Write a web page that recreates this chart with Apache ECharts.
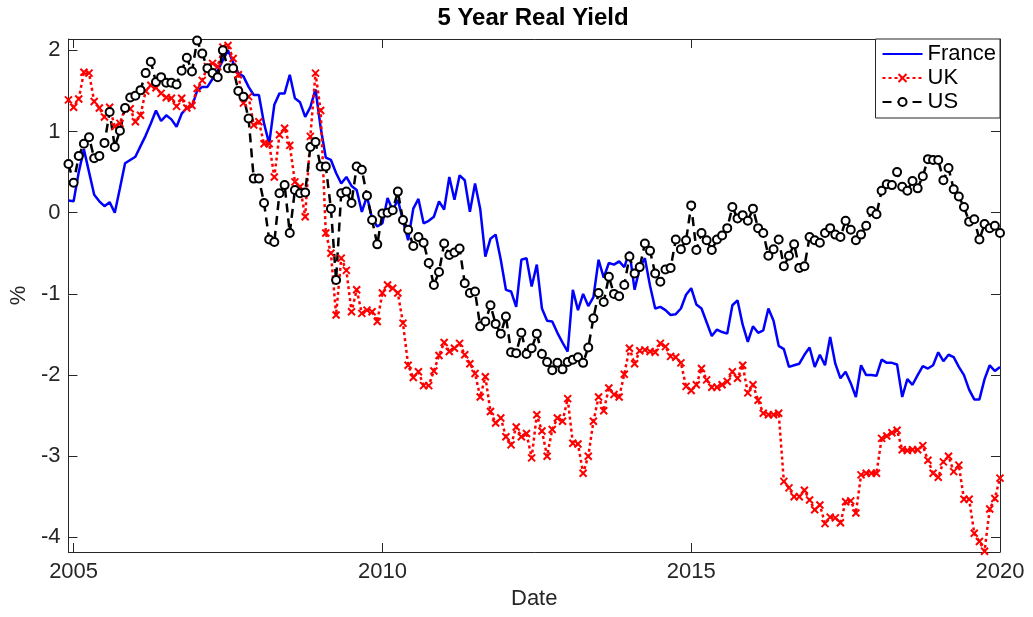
<!DOCTYPE html>
<html>
<head>
<meta charset="utf-8">
<title>5 Year Real Yield</title>
<script src="https://cdn.jsdelivr.net/npm/echarts@6/dist/echarts.min.js"></script>
<style>
  html, body { margin: 0; padding: 0; background: #fff; }
  #chart { width: 1033px; height: 617px; }
</style>
</head>
<body>
<div id="chart"></div>
<script>
// monthly observations, first one is Dec 2004, last one Jan 2020
const startYear = 2004;
const startMonth = 12;
const xTicks = [2005, 2010, 2015, 2020];
const yTicks = [-4, -3, -2, -1, 0, 1, 2];
const seriesNames = ["France", "UK", "US"];

const france = [
  0.15,
  0.14, 0.5, 0.78, 0.5, 0.22, 0.14, 0.08, 0.13, 0.0, 0.3, 0.61, 0.65,
  0.69, 0.82, 0.95, 1.1, 1.26, 1.13, 1.2, 1.15, 1.06, 1.22, 1.29, 1.31,
  1.5, 1.55, 1.55, 1.65, 1.75, 1.88, 2.0, 1.85, 1.72, 1.68, 1.55, 1.45,
  1.45, 1.1, 0.85, 1.33, 1.47, 1.47, 1.7, 1.41, 1.36, 1.18, 1.3, 1.52,
  1.05, 0.68, 0.65, 0.49, 0.36, 0.44, 0.33, 0.28, 0.01, 0.2, -0.07, -0.17,
  -0.13, 0.18, 0.03, 0.16, -0.1, -0.34, 0.05, 0.17, -0.13, -0.1, -0.05, 0.14,
  0.04, 0.44, 0.16, 0.46, 0.4, 0.01, 0.36, 0.05, -0.54, -0.32, -0.27, -0.58,
  -0.95, -0.97, -1.16, -0.58, -0.56, -0.91, -0.64, -1.18, -1.33, -1.34, -1.48, -1.6,
  -1.71, -0.95, -1.2, -1.0, -1.15, -1.04, -0.58, -0.8, -0.62, -0.64, -0.6, -0.67,
  -0.48, -0.95, -0.68, -0.56, -0.9, -1.18, -1.16, -1.2, -1.26, -1.25, -1.18, -1.01,
  -0.93, -1.13, -1.18, -1.35, -1.52, -1.44, -1.47, -1.49, -1.14, -1.08, -1.38, -1.59,
  -1.4, -1.48, -1.45, -1.18, -1.33, -1.64, -1.68, -1.9, -1.88, -1.86, -1.75, -1.66,
  -1.9, -1.75, -1.88, -1.53, -1.86, -2.04, -1.96, -2.1, -2.27, -1.88, -2.0, -2.0,
  -2.01, -1.81, -1.85, -1.85, -1.87, -2.27, -2.05, -2.12, -2.0, -1.89, -1.92, -1.88,
  -1.72, -1.83, -1.75, -1.78, -1.9, -2.0, -2.18, -2.3, -2.3, -2.05, -1.88, -1.95,
  -1.9,
];

const uk = [
  1.39,
  1.3, 1.4, 1.73, 1.72, 1.37, 1.29, 1.18, 1.3, 1.06, 1.1, 1.29, 1.28,
  1.12, 1.2, 1.5, 1.57, 1.54, 1.47, 1.42, 1.41, 1.31, 1.41, 1.29, 1.32,
  1.53, 1.63, 1.8, 1.84, 1.8, 2.04, 2.06, 1.9, 1.7, 1.35, 1.43, 1.08,
  1.12, 0.85, 0.85, 0.44, 0.96, 1.04, 0.83, 0.38, 0.32, -0.05, 0.94, 1.72,
  1.26, -0.25, -0.5, -1.26, -0.56, -0.71, -1.22, -0.95, -1.24, -1.2, -1.22, -1.34,
  -0.99, -0.89, -0.93, -0.99, -1.36, -1.88, -2.03, -1.96, -2.13, -2.13, -1.95, -1.76,
  -1.6, -1.71, -1.67, -1.61, -1.75, -1.86, -1.98, -2.27, -2.02, -2.45, -2.59, -2.53,
  -2.76, -2.86, -2.64, -2.76, -2.72, -3.02, -2.49, -2.69, -3.0, -2.67, -2.53, -2.57,
  -2.29, -2.84, -2.85, -3.21, -3.0, -2.57, -2.27, -2.44, -2.16, -2.24, -2.27, -1.99,
  -1.67, -1.86, -1.7, -1.69, -1.71, -1.72, -1.61, -1.65, -1.77, -1.78, -1.85, -2.14,
  -2.19, -2.12, -1.92, -2.06, -2.15, -2.15, -2.12, -2.08, -1.96, -2.04, -1.88, -2.22,
  -2.12, -2.31, -2.47, -2.49, -2.49, -2.47, -3.31, -3.39, -3.5, -3.5, -3.42, -3.54,
  -3.66, -3.6, -3.83, -3.75, -3.76, -3.82, -3.56, -3.55, -3.7, -3.23, -3.21, -3.21,
  -3.21, -2.78, -2.75, -2.71, -2.68, -2.92, -2.93, -2.92, -2.92, -2.87, -3.05, -3.21,
  -3.26, -3.07, -3.0, -3.19, -3.11, -3.53, -3.53, -3.95, -4.05, -4.17, -3.65, -3.52,
  -3.27,
];

const us = [
  0.6,
  0.37, 0.7, 0.85, 0.93, 0.67, 0.7, 0.86, 1.24, 0.81, 1.01, 1.29, 1.42,
  1.44, 1.51, 1.72, 1.86, 1.61, 1.67, 1.6, 1.6, 1.58, 1.75, 1.91, 1.74,
  2.12, 1.96, 1.78, 1.72, 1.67, 2.0, 1.78, 1.78, 1.5, 1.43, 1.16, 0.42,
  0.42, 0.12, -0.33, -0.36, 0.24, 0.34, -0.25, 0.28, 0.24, 0.25, 0.81, 0.87,
  0.57, 0.57, 0.05, -0.83, 0.24, 0.26, 0.12, 0.57, 0.53, 0.21, -0.09, -0.39,
  -0.01, 0.0, 0.03, 0.26, -0.09, -0.21, -0.41, -0.3, -0.37, -0.62, -0.89, -0.73,
  -0.38, -0.52, -0.49, -0.44, -0.87, -0.99, -0.97, -1.4, -1.34, -1.14, -1.37, -1.49,
  -1.28, -1.72, -1.73, -1.48, -1.74, -1.67, -1.49, -1.74, -1.84, -1.94, -1.85, -1.93,
  -1.84, -1.81, -1.78, -1.85, -1.66, -1.3, -0.99, -1.1, -0.79, -1.0, -1.03, -0.89,
  -0.54, -0.75, -0.67, -0.38, -0.47, -0.75, -0.85, -0.7, -0.68, -0.33, -0.45, -0.34,
  0.09, -0.46, -0.25, -0.34, -0.46, -0.33, -0.28, -0.19, 0.07, -0.07, -0.03, -0.1,
  0.05, -0.19, -0.25, -0.53, -0.45, -0.33, -0.66, -0.53, -0.39, -0.68, -0.66, -0.3,
  -0.34, -0.37, -0.25, -0.19, -0.27, -0.3, -0.1, -0.21, -0.34, -0.27, -0.16, 0.02,
  -0.02, 0.27, 0.35, 0.34, 0.5, 0.32, 0.27, 0.39, 0.3, 0.45, 0.66, 0.65,
  0.65, 0.4, 0.55, 0.29, 0.2, 0.07, -0.11, -0.08, -0.33, -0.14, -0.19, -0.16,
  -0.25,
];

const axisColor = "#262626";
const fontFamily = "'Liberation Sans', Arial, Helvetica, sans-serif";
const labelSize = 22;
const xMin = startYear + (startMonth - 1) / 12;
const xMax = xMin + (france.length - 1) / 12;
const yMin = -4.18;
const yMax = 2.14;

function toPairs(values) {
  return values.map((v, i) => [xMin + i / 12, v]);
}

function boxAxis(kind, position, showLabels) {
  const ticks = kind === "x" ? xTicks : yTicks;
  return {
    type: "value",
    position,
    min: kind === "x" ? xMin : yMin,
    max: kind === "x" ? xMax : yMax,
    splitLine: { show: false },
    axisLine: { show: true, onZero: false, lineStyle: { color: axisColor, width: 1 } },
    axisTick: {
      show: true,
      inside: true,
      length: 9,
      customValues: ticks,
      lineStyle: { color: axisColor, width: 1 },
    },
    axisLabel: {
      show: showLabels,
      customValues: ticks,
      color: axisColor,
      fontFamily,
      fontSize: labelSize,
      margin: kind === "x" ? 9 : 8,
      formatter: (v) => String(v),
    },
  };
}

const xAxes = [
  {
    ...boxAxis("x", "bottom", true),
    name: "Date",
    nameLocation: "middle",
    nameGap: 35,
    nameTextStyle: { color: axisColor, fontFamily, fontSize: labelSize },
  },
  boxAxis("x", "top", false),
];

const yAxes = [
  {
    ...boxAxis("y", "left", true),
    name: "%",
    nameLocation: "middle",
    nameGap: 38,
    nameRotate: 90,
    nameTextStyle: { color: axisColor, fontFamily, fontSize: labelSize },
  },
  boxAxis("y", "right", false),
];

const chart = echarts.init(document.getElementById("chart"), null, { renderer: "canvas" });

chart.setOption({
  animation: false,
  backgroundColor: "#ffffff",
  graphic: [
    {
      type: "text",
      x: 533,
      y: 6,
      style: {
        text: "5 Year Real Yield",
        font: "bold 24px " + fontFamily,
        fill: "#000000",
        textAlign: "center",
      },
    },
  ],
  grid: { left: 66, right: 33, top: 39, bottom: 65, containLabel: false },
  legend: {
    orient: "vertical",
    right: 33,
    top: 39,
    // France has no marker, so hide the legend dot for it
    data: [
      { name: "France", itemStyle: { opacity: 0 } },
      "UK",
      "US",
    ],
    itemWidth: 40,
    itemHeight: 10,
    itemGap: 2,
    padding: [4, 4, 5, 6],
    backgroundColor: "#ffffff",
    borderColor: axisColor,
    borderWidth: 1,
    borderRadius: 0,
    textStyle: { color: "#000000", fontFamily, fontSize: labelSize, lineHeight: 22 },
  },
  xAxis: xAxes,
  yAxis: yAxes,
  series: [
    {
      name: seriesNames[0],
      type: "line",
      data: toPairs(france),
      showSymbol: false,
      symbol: "none",
      lineStyle: { color: "#0000ff", width: 2.5 },
      itemStyle: { color: "#0000ff" },
    },
    {
      name: seriesNames[1],
      type: "line",
      data: toPairs(uk),
      symbol: "path://M0,0L10,10M10,0L0,10",
      symbolSize: 7,
      lineStyle: { color: "#ff0000", width: 2.5, type: [3, 3] },
      itemStyle: { color: "#ff0000", borderColor: "#ff0000", borderWidth: 2 },
    },
    {
      name: seriesNames[2],
      type: "line",
      data: toPairs(us),
      symbol: "emptyCircle",
      symbolSize: 8,
      lineStyle: { color: "#000000", width: 2.5, type: [9, 6] },
      itemStyle: { color: "#000000", borderColor: "#000000", borderWidth: 2 },
    },
  ],
});
</script>
</body>
</html>
